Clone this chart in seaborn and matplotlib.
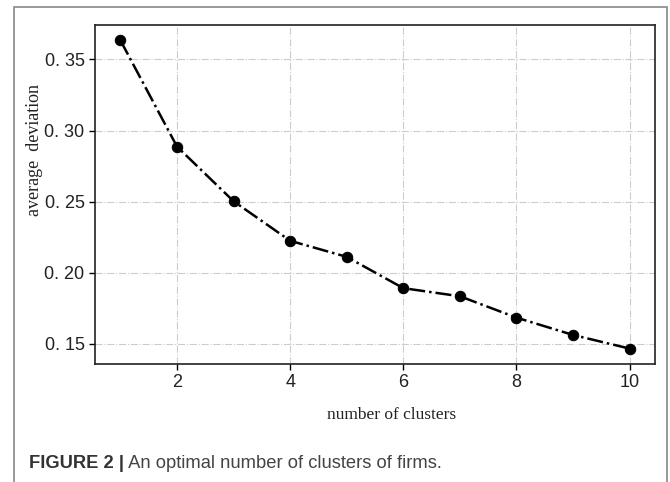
import matplotlib
matplotlib.use("Agg")
import matplotlib.pyplot as plt
import matplotlib.patches as mpatches
import seaborn as sns
import pandas as pd

clusters = [1, 2, 3, 4, 5, 6, 7, 8, 9, 10]
avg_dev = [0.3634, 0.2887, 0.2503, 0.2225, 0.2112, 0.1892, 0.1835, 0.1685, 0.1563, 0.1467]
y_ticks = [0.15, 0.20, 0.25, 0.30, 0.35]
y_tick_labels = ["0. 15", "0. 20", "0. 25", "0. 30", "0. 35"]
x_ticks = [2, 4, 6, 8, 10]
x_label = "number of clusters"
y_label = "average  deviation"
caption_bold = "FIGURE 2 |"
caption_text = " An optimal number of clusters of firms."

sns.set_style("white")
plt.rcParams['font.family'] = ['DejaVu Sans']

df = pd.DataFrame({"k": clusters, "dev": avg_dev})

W, H = 670, 482
fig = plt.figure(figsize=(W / 100, H / 100), dpi=100)
ax = fig.add_axes([95 / W, 1 - 364 / H, (655 - 95) / W, (364 - 25) / H])

sns.lineplot(data=df, x="k", y="dev", ax=ax, color="black", linestyle="-.",
             linewidth=1.8, marker="o", markersize=7.5, markeredgecolor="black",
             markerfacecolor="black", zorder=3)

ax.grid(True, color="#cccccc", linestyle="-.", linewidth=0.8)
ax.set_axisbelow(True)
ax.set_xticks(x_ticks)
ax.set_xticklabels([str(t) for t in x_ticks], fontsize=13, family="Liberation Sans", color="#222222")
ax.set_yticks(y_ticks)
ax.set_yticklabels(y_tick_labels, fontsize=13, family="Liberation Sans", color="#222222")
ax.tick_params(axis="both", direction="out", length=4, width=1, color="black", bottom=True, left=True)
for sp in ax.spines.values():
    sp.set_color("#222222")
    sp.set_linewidth(1.2)
ax.set_xlabel(x_label, fontsize=12.5, family="Liberation Serif", color="#222222")
ax.set_ylabel(y_label, fontsize=13, family="Liberation Serif", color="#222222")
ax.xaxis.set_label_coords(0.529, -0.127)
ax.yaxis.set_label_coords(-0.093, 0.63)

# outer frame
frame = mpatches.Rectangle((14 / W, -0.01), (667 - 14) / W, 1 - 7 / H + 0.01,
                           transform=fig.transFigure, fill=False,
                           edgecolor="#888888", linewidth=1.2)
fig.patches.append(frame)

t1 = fig.text(29 / W, 1 - 468 / H, caption_bold, fontsize=13.2, fontweight="bold",
              family="Liberation Sans", color="#333333", va="baseline")
fig.canvas.draw()
bb = t1.get_window_extent()
fig.text(bb.x1 / W, 1 - 468 / H, caption_text, fontsize=13.2,
         family="Liberation Sans", color="#444444", va="baseline")

fig.savefig("out.png", dpi=100)
